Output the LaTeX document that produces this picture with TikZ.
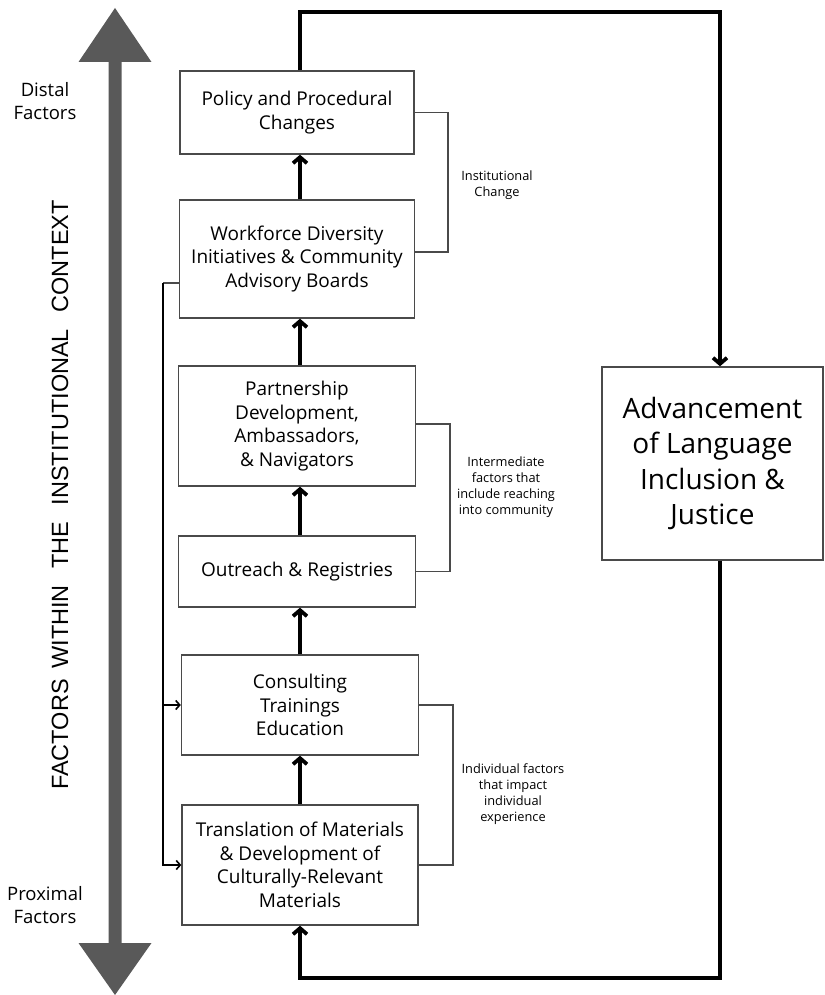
\documentclass[tikz,border=0pt]{standalone}
\usepackage{fontspec}
\setmainfont{Open Sans}
\newfontfamily\arialfont{Liberation Sans}
\usetikzlibrary{arrows.meta}
\definecolor{axisgray}{HTML}{595959}
\definecolor{edgegray}{HTML}{4A4A4A}
\begin{document}
\begin{tikzpicture}[x=1pt, y=-1pt,
  box/.style={draw=edgegray, line width=1.4pt, align=center, inner sep=2pt,
    font=\fontsize{19}{23.5}\selectfont},
  flow/.style={line width=3.8pt, -{Straight Barb[length=6pt,width=14pt]}},
  bracket/.style={draw=edgegray, line width=1.6pt},
  side/.style={bracket, draw=black, -{Straight Barb[length=4pt,width=9pt]}},
  note/.style={align=center, font=\fontsize{12.8}{16}\selectfont},
  pole/.style={align=center, font=\fontsize{18.5}{23}\selectfont}]
  \useasboundingbox (0,0) rectangle (824,995);
  \def\cA{297} \def\cB{300} \def\wB{235}
  \def\rail{163} \def\rTop{12} \def\rBot{978}
  \fill[axisgray] (115,8) -- (151.5,62) -- (121.5,62) -- (121.5,943)
    -- (151.5,943) -- (115,995) -- (78.5,943) -- (108.5,943)
    -- (108.5,62) -- (78.5,62) -- cycle;
  \node[rotate=90, font=\arialfont\fontsize{23.5}{23.5}\selectfont] (ctx) at (60,495)
    {FACTORS\hspace{0.45em}WITHIN\hspace{0.7em}THE\hspace{0.7em}INSTITUTIONAL\hspace{0.7em}CONTEXT};
  \node[pole] (distal) at (45,101) {Distal\\Factors};
  \node[pole] (proximal) at (45,905) {Proximal\\Factors};
  \node[box, minimum width=234, minimum height=83] (pol) at (\cA,112.5)
    {Policy and Procedural\\Changes};
  \node[box, minimum width=\wB, minimum height=118] (wf) at (\cA,259)
    {Workforce Diversity\\Initiatives \& Community\\Advisory Boards};
  \node[box, minimum width=237, minimum height=120] (part) at (\cA,426)
    {Partnership\\Development,\\Ambassadors,\\\& Navigators};
  \node[box, minimum width=237, minimum height=71] (out) at (\cA,571.5)
    {Outreach \& Registries};
  \node[box, minimum width=237, minimum height=100] (cons) at (\cB,705)
    {Consulting\\Trainings\\Education};
  \node[box, minimum width=236, minimum height=120] (trans) at (\cB,865)
    {Translation of Materials\\\& Development of\\Culturally-Relevant\\Materials};
  \node[box, minimum width=221, minimum height=193,
    font=\fontsize{28}{35.5}\selectfont] (adv) at (712.5,463.5)
    {Advancement\\of Language\\Inclusion \&\\Justice};
  \draw[flow] (trans.north) -- (cons.south);
  \draw[flow] (cons.north) -- (cons.north |- out.south);
  \draw[flow] (out.north -| cons.north) -- (cons.north |- part.south);
  \draw[flow] (part.north -| cons.north) -- (cons.north |- wf.south);
  \draw[flow] (wf.north -| cons.north) -- (cons.north |- pol.south);
  \coordinate (top) at (720,\rTop);
  \coordinate (bot) at (720,\rBot);
  \draw[flow] (pol.north -| cons.north) |- (top) -- (top |- adv.north);
  \draw[flow] (bot |- adv.south) -- (bot) -| (trans.south);
  \draw[bracket] (pol.east) -- ++(33,0) coordinate (b1)
    -- (b1 |- 0,252) -- ([yshift=7pt]wf.east);
  \node[note] (inst) at (497,185) {Institutional\\Change};
  \draw[bracket] ([yshift=2pt]part.east) -- ++(34,0) coordinate (b2)
    -- (b2 |- out.east) -- (out.east);
  \node[note] (inter) at (506,487)
    {Intermediate\\factors that\\include reaching\\into community};
  \draw[bracket] (cons.east) -- ++(34,0) coordinate (b3)
    -- (b3 |- trans.east) -- (trans.east);
  \node[note] (indiv) at (513,794)
    {Individual factors\\that impact\\individual\\experience};
  \coordinate (left) at (\rail,283);
  \draw[bracket] ([yshift=-24pt]wf.west) -- (left);
  \draw[side] (left) -- (left |- trans.west) -- (trans.west);
  \draw[side] (left |- cons.west) -- (cons.west);
\end{tikzpicture}
\end{document}
